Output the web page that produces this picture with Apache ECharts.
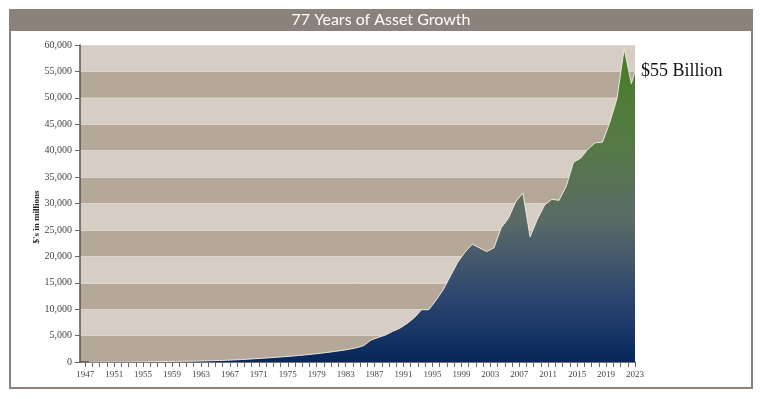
<!DOCTYPE html>
<html>
<head>
<meta charset="utf-8">
<script src="https://cdn.jsdelivr.net/npm/echarts@6/dist/echarts.min.js"></script>
<style>
  html, body { margin: 0; padding: 0; background: #fff; }
  #chart { width: 760px; height: 399px; }
</style>
</head>
<body>
<div id="chart"></div>
<script>
// 资产增长面积图
const years = Array.from({ length: 77 }, (_, i) => 1947 + i);
const assets = [
  10, 15, 20, 25, 30, 38, 46, 55, 65, 75,
  88, 100, 115, 130, 150, 170, 200, 240, 280, 330,
  390, 460, 540, 620, 710, 800, 900, 1000, 1110, 1230,
  1360, 1500, 1650, 1820, 2000, 2200, 2420, 2700, 3100, 4150,
  4650, 5100, 5800, 6400, 7300, 8400, 9900, 9900, 11700, 13700,
  16300, 18900, 20800, 22300, 21600, 20900, 21600, 25400, 27200, 30300,
  32000, 23700, 27000, 29700, 30800, 30600, 33300, 37800, 38600, 40300,
  41500, 41600, 45300, 49800, 59300, 52700, 55000
];
const labelYears = [1947, 1951, 1955, 1959, 1963, 1967, 1971, 1975, 1979, 1983,
  1987, 1991, 1995, 1999, 2003, 2007, 2011, 2015, 2019, 2023];

const xMin = 1946.28;
const xMax = 2023;
// year-end values sit half a year to the right of the year tick
const points = years.map((y, i) => [Math.min(y + 0.5, xMax), assets[i]]);

const frame = "#8b827b";
const serif = "Liberation Serif";

let myChart = echarts.init(document.getElementById("chart"));
myChart.setOption({
  animation: false,
  grid: { left: 80, right: 125, top: 45, bottom: 37 },
  xAxis: {
    type: "value",
    min: xMin,
    max: xMax,
    splitLine: { show: false },
    axisLine: { show: true, onZero: false, lineStyle: { color: "#555", width: 1.5 } },
    axisTick: {
      show: true,
      customValues: years,
      length: 5,
      lineStyle: { color: "#666" }
    },
    axisLabel: {
      customValues: labelYears,
      margin: 8,
      fontFamily: serif,
      fontSize: 9,
      color: "#444",
      formatter: v => String(Math.round(v))
    }
  },
  yAxis: {
    type: "value",
    min: 0,
    max: 60000,
    interval: 5000,
    axisLine: { show: true, lineStyle: { color: "#555", width: 1.5 } },
    axisTick: { show: true, length: 5, lineStyle: { color: "#666" } },
    axisLabel: {
      margin: 8,
      fontFamily: serif,
      fontSize: 10,
      color: "#444",
      formatter: v => v.toLocaleString("en-US")
    },
    splitLine: { show: true, lineStyle: { color: "#ded6cd", width: 1 } },
    splitArea: { show: true, areaStyle: { color: ["#b5a898", "#d6cec5"] } }
  },
  graphic: [
    {
      type: "rect",
      shape: { x: 10, y: 10, width: 742, height: 378 },
      style: { fill: "none", stroke: frame, lineWidth: 2 },
      silent: true
    },
    {
      type: "rect",
      shape: { x: 10, y: 9, width: 742, height: 22 },
      style: { fill: frame },
      silent: true
    },
    {
      type: "text",
      x: 381,
      y: 20,
      style: {
        text: "77 Years of Asset Growth",
        fill: "#fff",
        font: "16px Lato",
        textAlign: "center",
        textVerticalAlign: "middle"
      }
    },
    {
      type: "text",
      x: 37,
      y: 217,
      rotation: Math.PI / 2,
      style: {
        text: "$'s in millions",
        fill: "#222",
        font: "bold 9px 'Liberation Serif'",
        textAlign: "center",
        textVerticalAlign: "middle"
      }
    },
    {
      type: "text",
      x: 641,
      y: 71,
      style: {
        text: "$55 Billion",
        fill: "#111",
        font: "18px 'Liberation Serif'",
        textAlign: "left",
        textVerticalAlign: "middle"
      }
    }
  ],
  series: [
    {
      type: "line",
      data: points,
      showSymbol: false,
      smooth: false,
      lineStyle: { color: "#efe7de", width: 1 },
      areaStyle: {
        opacity: 1,
        color: new echarts.graphic.LinearGradient(0, 0, 0, 1, [
          { offset: 0, color: "#497d26" },
          { offset: 0.3, color: "#557a45" },
          { offset: 0.55, color: "#5a6a66" },
          { offset: 0.8, color: "#2c4570" },
          { offset: 1, color: "#06275a" }
        ])
      }
    }
  ]
});
</script>
</body>
</html>
